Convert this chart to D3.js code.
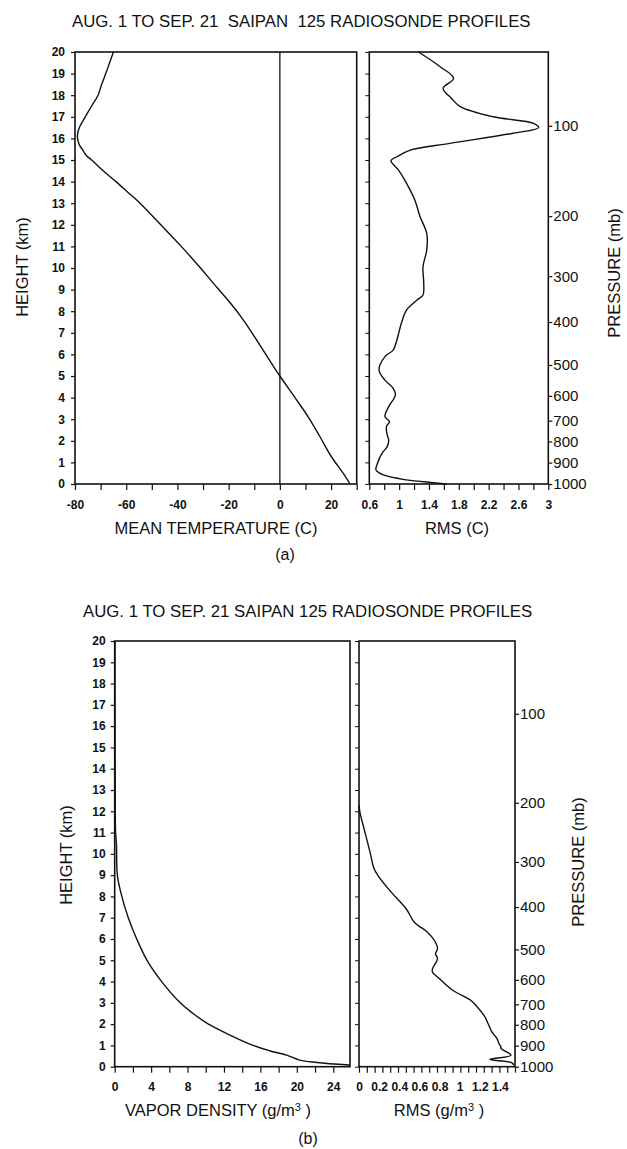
<!DOCTYPE html>
<html>
<head>
<meta charset="utf-8">
<script src="https://cdn.jsdelivr.net/npm/d3@7"></script>
<style>
  html, body { margin: 0; padding: 0; background: #fff; }
  svg { display: block; font-family: "Liberation Sans", Arial, Helvetica, sans-serif; }
  text { fill: #111; }
</style>
</head>
<body>
<script>
// ---------------- DATA ----------------
const titleText = "AUG. 1 TO SEP. 21  SAIPAN  125 RADIOSONDE PROFILES";
const titleTextB = "AUG. 1 TO SEP. 21 SAIPAN 125 RADIOSONDE PROFILES";

const heightTicks = [0,1,2,3,4,5,6,7,8,9,10,11,12,13,14,15,16,17,18,19,20];
const pressureLabels = [100,200,300,400,500,600,700,800,900,1000];
const pressureHeights = [16.58,12.4,9.62,7.5,5.51,4.08,2.93,1.97,0.99,0];

// (a) mean temperature profile
const tempHeight = [20,19.5,19,18.5,18,17.5,17,16.5,16.2,16,15.7,15.5,15.2,15,14.5,14,13.5,13,12,11,10,9.3,8.4,7.6,6.8,6,5,4,3.1,2.2,1.25,0.5,0];
const tempValue  = [-65,-66.5,-68,-69.6,-71,-73.5,-76,-78.3,-79,-79,-78.3,-77.2,-75.5,-73.5,-69,-64,-59.3,-54.6,-46.5,-38.5,-31,-26,-19.5,-14.3,-9.8,-5.5,0,5.9,11.1,15.6,20.2,24.7,27.4];
const tempMajorTicks = [-80,-60,-40,-20,0,20];
const tempMinorTicks = [-80,-70,-60,-50,-40,-30,-20,-10,0,10,20,30];
const tempZero = 0;

// (a) RMS temperature
const rmsTHeight = [20,19.32,18.78,18.32,17.86,17.47,17.0,16.7,16.5,16.24,15.77,15.46,15.15,14.97,14.54,13.92,13.15,12.38,11.6,10.83,10.06,9.29,8.75,8.52,8.06,7.44,6.67,6.2,5.9,5.28,4.81,4.43,4.12,3.58,3.12,2.89,2.66,2.27,2.04,1.73,1.42,0.96,0.65,0.42,0.19,0.06,0];
const rmsTValue  = [1.26,1.55,1.73,1.59,1.70,1.82,2.26,2.80,2.87,2.53,1.68,1.15,0.97,0.89,0.99,1.10,1.21,1.28,1.37,1.37,1.32,1.33,1.32,1.24,1.10,1.03,0.97,0.92,0.81,0.73,0.81,0.92,0.95,0.86,0.81,0.87,0.83,0.84,0.86,0.84,0.77,0.71,0.69,0.79,1.10,1.46,1.64];
const rmsTMajorTicks = [0.6,1,1.4,1.8,2.2,2.6,3];
const rmsTMinorTicks = [0.6,0.8,1,1.2,1.4,1.6,1.8,2,2.2,2.4,2.6,2.8,3];

// (b) vapor density
const vapHeight = [20,15,12,11,10.4,9.76,9,8.2,7,6,5,4,3,2.5,2,1.5,1,0.75,0.54,0.31,0.2,0.08];
const vapValue  = [0.03,0.04,0.06,0.1,0.2,0.22,0.29,0.66,1.49,2.42,3.55,5.16,7.2,8.6,10.3,12.6,15.2,17.0,18.9,20.3,22.2,25.8];
const vapMajorTicks = [0,4,8,12,16,20,24];
const vapMinorTicks = [0,2,4,6,8,10,12,14,16,18,20,22,24];

// (b) RMS vapor density
const rmsVHeight = [12.3,11.94,11.0,10.07,9.3,8.97,8.2,7.41,6.79,6.32,5.93,5.54,5.31,5.07,4.6,4.45,4.13,3.59,3.12,2.89,2.42,2.26,1.95,1.64,1.33,1.09,0.94,0.86,0.54,0.34,0.2,0.08];
const rmsVValue  = [0,0.01,0.06,0.11,0.15,0.19,0.32,0.47,0.55,0.68,0.75,0.78,0.76,0.78,0.73,0.73,0.80,0.93,1.11,1.16,1.24,1.26,1.29,1.32,1.37,1.39,1.41,1.41,1.51,1.30,1.51,1.54];
const rmsVMajorTicks = [0,0.2,0.4,0.6,0.8,1,1.2,1.4];
const rmsVMinorTicks = [0,0.0775,0.155,0.2325,0.31,0.3875,0.465,0.5425,0.62,0.6975,0.775,0.8525,0.93,1.0075,1.085,1.1625,1.24,1.3175,1.395,1.4725,1.55];

// ---------------- DRAW ----------------
const W = 627, H = 1149;
const svg = d3.select("body").append("svg").attr("width", W).attr("height", H);

const fmt = v => (Math.round(v*100)/100).toString();

function drawPanel(cfg) {
  const g = svg.append("g");
  const y = d3.scaleLinear().domain([0,20]).range([cfg.bottom, cfg.top]);
  const xL = d3.scaleLinear().domain(cfg.leftDomain).range([cfg.lx0, cfg.lx1]);
  const xR = d3.scaleLinear().domain(cfg.rightDomain).range([cfg.rx0, cfg.rx1]);

  // title
  g.append("text").attr("x", cfg.titleX).attr("y", cfg.titleY)
    .style("font-size", "16.8px").style("white-space", "pre")
    .text(cfg.title);

  // left y axis (height)
  const ay = g.append("g").attr("transform", `translate(${cfg.lx0},0)`)
    .call(d3.axisLeft(y).tickValues(heightTicks).tickSize(4).tickPadding(cfg.yPad).tickFormat(d3.format("d")));
  ay.select(".domain").remove();
  ay.selectAll("text").style("font-size", "12px").style("font-weight", "bold").attr("fill", "#111");
  ay.selectAll("line").attr("stroke", "#111").attr("stroke-width", 1.2);

  // right panel left axis ticks (no labels)
  const ay2 = g.append("g").attr("transform", `translate(${cfg.rx0},0)`)
    .call(d3.axisLeft(y).tickValues(heightTicks).tickSize(4).tickFormat(""));
  ay2.select(".domain").remove();
  ay2.selectAll("line").attr("stroke", "#111").attr("stroke-width", 1);

  // pressure axis on right
  const ap = g.append("g").attr("transform", `translate(${cfg.rx1},0)`)
    .call(d3.axisRight(y).tickValues(pressureHeights).tickSize(4).tickPadding(1)
      .tickFormat((d,i) => pressureLabels[i]));
  ap.select(".domain").remove();
  ap.selectAll("text").style("font-size", "15px").attr("fill", "#111");
  ap.selectAll("line").attr("stroke", "#111").attr("stroke-width", 1.2);

  // bottom axes: minor ticks (no labels) + major ticks with labels
  function bottomAxis(scale, minor, major) {
    const a = g.append("g").attr("transform", `translate(0,${cfg.bottom})`)
      .call(d3.axisBottom(scale).tickValues(minor).tickSize(6).tickFormat(""));
    a.select(".domain").remove();
    a.selectAll("line").attr("stroke", "#111").attr("stroke-width", 1.2);
    const b = g.append("g").attr("transform", `translate(0,${cfg.bottom})`)
      .call(d3.axisBottom(scale).tickValues(major).tickSize(6).tickPadding(10).tickFormat(fmt));
    b.select(".domain").remove();
    b.selectAll("line").remove();
    b.selectAll("text").style("font-size", "12px").style("font-weight", "bold").attr("fill", "#111");
  }
  bottomAxis(xL, cfg.leftMinor, cfg.leftMajor);
  bottomAxis(xR, cfg.rightMinor, cfg.rightMajor);

  // frames
  [[cfg.lx0, cfg.lx1], [cfg.rx0, cfg.rx1]].forEach(([a,b]) => {
    g.append("rect").attr("x", a).attr("y", cfg.top).attr("width", b - a).attr("height", cfg.bottom - cfg.top)
      .attr("fill", "none").attr("stroke", "#111").attr("stroke-width", 1.6);
  });

  // optional zero line
  if (cfg.zero !== undefined) {
    g.append("line").attr("x1", xL(cfg.zero)).attr("x2", xL(cfg.zero))
      .attr("y1", cfg.top).attr("y2", cfg.bottom).attr("stroke", "#111").attr("stroke-width", 1.3);
  }

  // curves
  const lineL = d3.line().x(d => xL(d[1])).y(d => y(d[0])).curve(d3.curveCatmullRom.alpha(0.5));
  const lineR = d3.line().x(d => xR(d[1])).y(d => y(d[0])).curve(d3.curveCatmullRom.alpha(0.5));
  g.append("path").datum(d3.zip(cfg.leftH, cfg.leftV)).attr("d", lineL)
    .attr("fill", "none").attr("stroke", "#111").attr("stroke-width", 1.4).attr("stroke-linejoin", "round");
  g.append("path").datum(d3.zip(cfg.rightH, cfg.rightV)).attr("d", lineR)
    .attr("fill", "none").attr("stroke", "#111").attr("stroke-width", 1.4).attr("stroke-linejoin", "round");

  // axis titles
  g.append("text").attr("transform", `translate(${cfg.hX},${cfg.hY}) rotate(-90)`)
    .attr("text-anchor", "middle").style("font-size", "16.5px").text("HEIGHT (km)");
  g.append("text").attr("transform", `translate(${cfg.pX},${cfg.pY}) rotate(-90)`)
    .attr("text-anchor", "middle").style("font-size", "16.5px").text("PRESSURE (mb)");

  const lt = g.append("text").attr("x", cfg.lTitleX).attr("y", cfg.xTitleY)
    .attr("text-anchor", "middle").style("font-size", "16.5px");
  cfg.leftTitle(lt);
  const rt = g.append("text").attr("x", cfg.rTitleX).attr("y", cfg.xTitleY)
    .attr("text-anchor", "middle").style("font-size", "16.5px");
  cfg.rightTitle(rt);

  g.append("text").attr("x", cfg.capX).attr("y", cfg.capY).attr("text-anchor", "middle")
    .style("font-size", "16px").text(cfg.caption);
}

function unitTitle(prefix) {
  return t => {
    t.append("tspan").text(prefix + " (g/m");
    t.append("tspan").attr("dy", -5).style("font-size", "11px").text("3");
    t.append("tspan").attr("dy", 5).text(" )");
  };
}

drawPanel({
  title: titleText, titleX: 72, titleY: 27,
  top: 52, bottom: 484,
  lx0: 75, lx1: 356.7, rx0: 369.3, rx1: 548.3,
  leftDomain: [-80, 30], rightDomain: [0.6, 3],
  leftMinor: tempMinorTicks, leftMajor: tempMajorTicks,
  rightMinor: rmsTMinorTicks, rightMajor: rmsTMajorTicks,
  leftH: tempHeight, leftV: tempValue, rightH: rmsTHeight, rightV: rmsTValue,
  zero: tempZero, yPad: 6,
  hX: 28, hY: 267, pX: 620, pY: 273,
  lTitleX: 216, rTitleX: 457, xTitleY: 534,
  leftTitle: t => t.text("MEAN TEMPERATURE (C)"),
  rightTitle: t => t.text("RMS (C)"),
  caption: "(a)", capX: 285, capY: 560
});

drawPanel({
  title: titleTextB, titleX: 83, titleY: 617,
  top: 641, bottom: 1066.7,
  lx0: 114.7, lx1: 350, rx0: 359, rx1: 515,
  leftDomain: [0, 25.84], rightDomain: [0, 1.55],
  leftMinor: vapMinorTicks, leftMajor: vapMajorTicks,
  rightMinor: rmsVMinorTicks, rightMajor: rmsVMajorTicks,
  leftH: vapHeight, leftV: vapValue, rightH: rmsVHeight, rightV: rmsVValue,
  yPad: 5,
  hX: 72, hY: 855, pX: 584, pY: 862,
  lTitleX: 218, rTitleX: 439, xTitleY: 1116,
  leftTitle: unitTitle("VAPOR DENSITY"),
  rightTitle: unitTitle("RMS"),
  caption: "(b)", capX: 308, capY: 1144
});
</script>
</body>
</html>
